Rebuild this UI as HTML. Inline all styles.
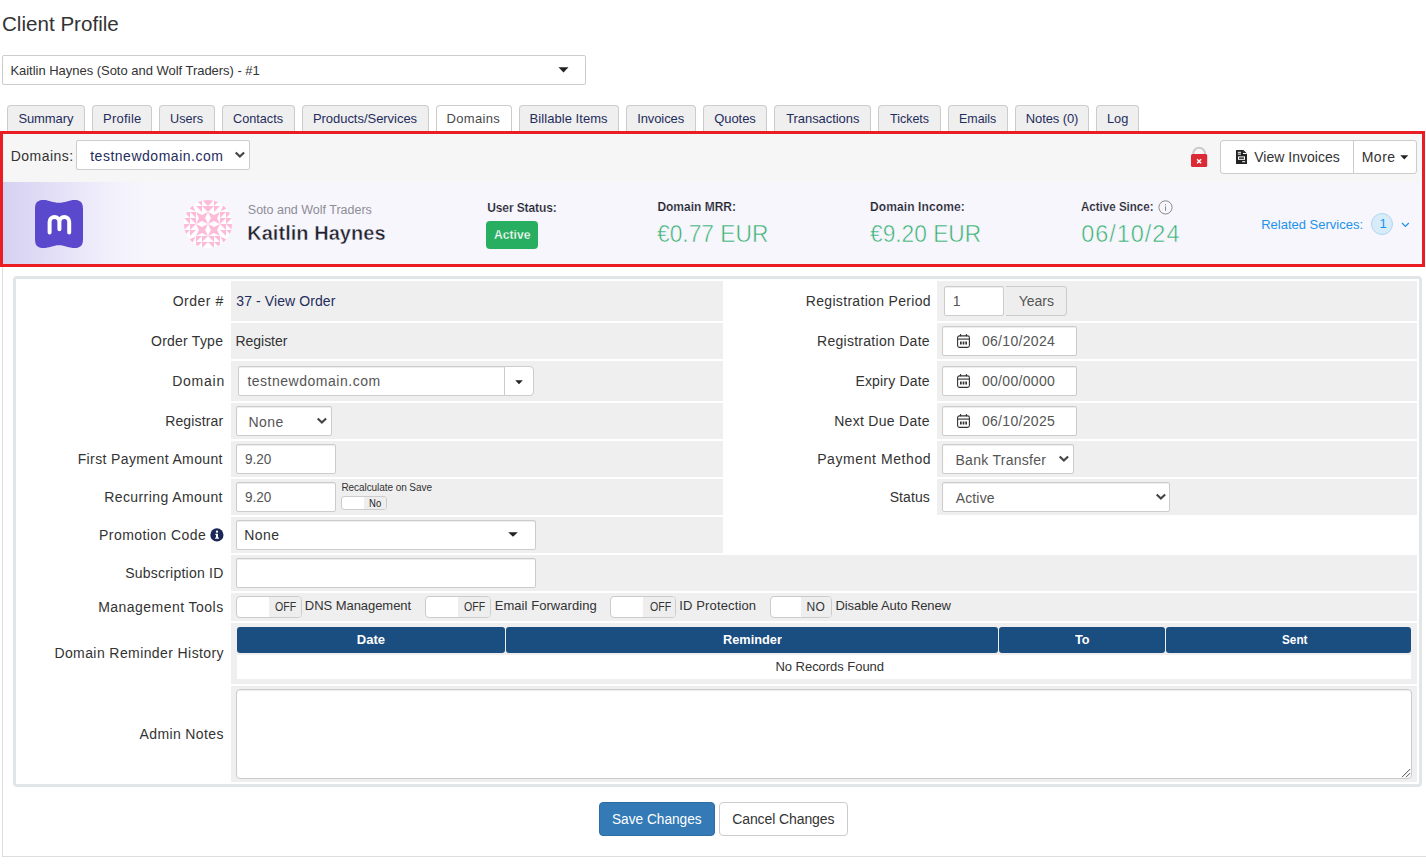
<!DOCTYPE html>
<html><head><meta charset="utf-8"><title>Client Profile</title>
<style>
html,body{margin:0;padding:0;background:#fff;}
body{width:1426px;height:864px;position:relative;overflow:hidden;font-family:"Liberation Sans", sans-serif;}
#pg div{position:absolute;box-sizing:border-box;}
#pg svg{position:absolute;overflow:visible;}
.t{position:absolute;white-space:pre;line-height:0;font-family:"Liberation Sans", sans-serif;}
</style></head><body><div id="pg">
<div style="left:2px;top:134px;width:1px;height:723px;background:#ddd"></div>
<div style="left:2px;top:856px;width:1424px;height:1px;background:#ddd"></div>
<div style="left:2px;top:55px;width:584px;height:30px;border:1px solid #ccc;border-radius:2px;background:#fff"></div>
<svg style="left:557.5px;top:67px" width="11" height="6" viewBox="0 0 11 6"><path d="M0.5 0.3H10.5L5.5 5.6Z" fill="#222"/></svg>
<div style="left:7px;top:105px;width:78px;height:27px;border:1px solid #ccc;border-bottom:0;border-radius:4px 4px 0 0;background:#efefef"></div>
<div style="left:92px;top:105px;width:60px;height:27px;border:1px solid #ccc;border-bottom:0;border-radius:4px 4px 0 0;background:#efefef"></div>
<div style="left:159px;top:105px;width:56px;height:27px;border:1px solid #ccc;border-bottom:0;border-radius:4px 4px 0 0;background:#efefef"></div>
<div style="left:222px;top:105px;width:73px;height:27px;border:1px solid #ccc;border-bottom:0;border-radius:4px 4px 0 0;background:#efefef"></div>
<div style="left:302px;top:105px;width:127px;height:27px;border:1px solid #ccc;border-bottom:0;border-radius:4px 4px 0 0;background:#efefef"></div>
<div style="left:436px;top:105px;width:76px;height:27px;border:1px solid #ccc;border-bottom:0;border-radius:4px 4px 0 0;background:#fff"></div>
<div style="left:519px;top:105px;width:100px;height:27px;border:1px solid #ccc;border-bottom:0;border-radius:4px 4px 0 0;background:#efefef"></div>
<div style="left:626px;top:105px;width:70px;height:27px;border:1px solid #ccc;border-bottom:0;border-radius:4px 4px 0 0;background:#efefef"></div>
<div style="left:703px;top:105px;width:64px;height:27px;border:1px solid #ccc;border-bottom:0;border-radius:4px 4px 0 0;background:#efefef"></div>
<div style="left:774px;top:105px;width:97px;height:27px;border:1px solid #ccc;border-bottom:0;border-radius:4px 4px 0 0;background:#efefef"></div>
<div style="left:878px;top:105px;width:63px;height:27px;border:1px solid #ccc;border-bottom:0;border-radius:4px 4px 0 0;background:#efefef"></div>
<div style="left:948px;top:105px;width:60px;height:27px;border:1px solid #ccc;border-bottom:0;border-radius:4px 4px 0 0;background:#efefef"></div>
<div style="left:1015px;top:105px;width:74px;height:27px;border:1px solid #ccc;border-bottom:0;border-radius:4px 4px 0 0;background:#efefef"></div>
<div style="left:1096px;top:105px;width:43px;height:27px;border:1px solid #ccc;border-bottom:0;border-radius:4px 4px 0 0;background:#efefef"></div>
<div style="left:0px;top:131px;width:1425px;height:136px;border:3px solid #ea1c24;background:#f6f6f6"></div>
<div style="left:3px;top:182px;width:1419px;height:82px;background:linear-gradient(90deg,#d6d1f1 0px,#e0dcf5 40px,#ebe8f9 80px,#f3f1fb 112px,#f7f6fd 145px,#f7f6fd 100%)"></div>
<div style="left:76px;top:140px;width:174px;height:30px;border:1px solid #ccc;border-radius:2px;background:#fff"></div>
<svg style="left:234.1px;top:151.2px" width="12" height="8" viewBox="0 0 12 8"><path d="M1.7 1.5L5.9 5.6L10.1 1.5" fill="none" stroke="#444" stroke-width="2.1"/></svg>
<svg style="left:1190px;top:146px" width="18" height="22" viewBox="0 0 18 22">
<path d="M3.2 9V7.6a5.9 5.9 0 0 1 11.8 0V9" fill="none" stroke="#c9c9c9" stroke-width="2"/>
<rect x="1" y="8" width="16.2" height="13" rx="1.6" fill="#db2a35"/>
<path d="M7.1 13.3L11.1 17.3M11.1 13.3L7.1 17.3" stroke="#fff" stroke-width="1.5"/></svg>
<div style="left:1220px;top:140px;width:197px;height:34px;border:1px solid #ccc;border-radius:3px;background:#fff"></div>
<div style="left:1353px;top:141px;width:1px;height:32px;background:#ccc"></div>
<svg style="left:1236px;top:150px" width="11" height="14" viewBox="0 0 11 14">
<path d="M0.6 0H7L11 4V13.4a.6.6 0 0 1-.6.6H.6a.6.6 0 0 1-.6-.6V.6A.6.6 0 0 1 .6 0Z" fill="#222"/>
<path d="M7 0V4H11Z" fill="#fff"/><path d="M7.4 0L11 3.6H7.4Z" fill="#222" transform="translate(0.3,-0.3) scale(0.92)"/>
<rect x="1.8" y="1.8" width="3.2" height="1" fill="#fff"/><rect x="1.8" y="3.6" width="3.2" height="1" fill="#fff"/>
<rect x="2" y="6.4" width="7" height="3.4" fill="#fff"/><rect x="3" y="7.4" width="5" height="1.4" fill="#222"/>
<rect x="6.2" y="11.2" width="3" height="1" fill="#fff"/></svg>
<svg style="left:1400px;top:155px" width="9" height="5" viewBox="0 0 9 5"><path d="M0.3 0.3H8.3L4.3 4.6Z" fill="#222"/></svg>
<svg style="left:35px;top:200px" width="48" height="48" viewBox="0 0 48 48">
<path d="M0 9C0 2.5 2.5 0 8.5 0C14 0 18 2.8 24 2.8C30 2.8 34 0 39.5 0C45.5 0 48 2.5 48 9L48 39C48 45.5 45.5 48 39.5 48C34 48 30 45.2 24 45.2C18 45.2 14 48 8.5 48C2.5 48 0 45.5 0 39Z" fill="#5b49cd"/>
<path d="M14.6 32.6V22A4.9 4.9 0 0 1 24.4 22V29.2M24.4 22A4.9 4.9 0 0 1 34.2 22V32.6" fill="none" stroke="#fff" stroke-width="4" stroke-linecap="round"/></svg>
<svg style="left:184px;top:200px" width="48" height="48" viewBox="0 0 48 48"><defs><clipPath id="av"><circle cx="24" cy="24" r="24"/></clipPath></defs><g clip-path="url(#av)"><rect width="48" height="48" fill="#fff"/><g fill="#fbbbd9"><path d="M12 0H18V6Z"/><path d="M12 6H18V12Z"/><path d="M18 0H24V6Z"/><path d="M18 6H24V12Z"/><path d="M0 12H6V18Z"/><path d="M0 18H6V24Z"/><path d="M6 12H12V18Z"/><path d="M6 18H12V24Z"/><path d="M36 24H42V30Z"/><path d="M36 30H42V36Z"/><path d="M42 24H48V30Z"/><path d="M42 30H48V36Z"/><path d="M24 36H30V42Z"/><path d="M24 42H30V48Z"/><path d="M30 36H36V42Z"/><path d="M30 42H36V48Z"/><path d="M24 0H30L24 6Z"/><path d="M24 6H30L24 12Z"/><path d="M30 0H36L30 6Z"/><path d="M30 6H36L30 12Z"/><path d="M36 12H42L36 18Z"/><path d="M36 18H42L36 24Z"/><path d="M42 12H48L42 18Z"/><path d="M42 18H48L42 24Z"/><path d="M0 24H6L0 30Z"/><path d="M0 30H6L0 36Z"/><path d="M6 24H12L6 30Z"/><path d="M6 30H12L6 36Z"/><path d="M12 36H18L12 42Z"/><path d="M12 42H18L12 48Z"/><path d="M18 36H24L18 42Z"/><path d="M18 42H24L18 48Z"/><path d="M8.6 5.2L11.4 11.2L5.2 8.6Z"/><path d="M39.4 5.2L36.6 11.2L42.8 8.6Z"/><path d="M8.6 42.8L11.4 36.8L5.2 39.4Z"/><path d="M39.4 42.8L36.6 36.8L42.8 39.4Z"/><path d="M0 0L6 2.9L12 0L9.1 6L12 12L6 9.1L0 12L2.9 6Z" transform="translate(12,12)"/><path d="M0 0L6 2.9L12 0L9.1 6L12 12L6 9.1L0 12L2.9 6Z" transform="translate(24,12)"/><path d="M0 0L6 2.9L12 0L9.1 6L12 12L6 9.1L0 12L2.9 6Z" transform="translate(12,24)"/><path d="M0 0L6 2.9L12 0L9.1 6L12 12L6 9.1L0 12L2.9 6Z" transform="translate(24,24)"/></g></g></svg>
<div style="left:486px;top:221px;width:52px;height:28px;background:#27ae60;border-radius:4px"></div>
<svg style="left:1158px;top:200px" width="15" height="15" viewBox="0 0 15 15"><circle cx="7.5" cy="7.4" r="6.6" fill="none" stroke="#8a8a8a" stroke-width="1"/><rect x="7" y="6.4" width="1" height="4.4" fill="#8a8a8a"/><rect x="7" y="4.2" width="1" height="1.1" fill="#8a8a8a"/></svg>
<div style="left:1371px;top:213px;width:22px;height:22px;border-radius:50%;background:#d8ebf9;border:1px solid #afd6f3"></div>
<svg style="left:1401px;top:222px" width="9" height="6" viewBox="0 0 9 6"><path d="M1 1L4.4 4.4L7.8 1" fill="none" stroke="#1c93ea" stroke-width="1.3"/></svg>
<div style="left:13px;top:276px;width:1409px;height:511px;border:3px solid #e1e6e9;border-radius:4px;background:#fff"></div>
<div style="left:231px;top:281px;width:492px;height:40px;background:#efefef"></div>
<div style="left:937px;top:281px;width:480px;height:40px;background:#efefef"></div>
<div style="left:231px;top:323px;width:492px;height:36px;background:#efefef"></div>
<div style="left:937px;top:323px;width:480px;height:36px;background:#efefef"></div>
<div style="left:231px;top:361px;width:492px;height:40px;background:#efefef"></div>
<div style="left:937px;top:361px;width:480px;height:40px;background:#efefef"></div>
<div style="left:231px;top:403px;width:492px;height:36px;background:#efefef"></div>
<div style="left:937px;top:403px;width:480px;height:36px;background:#efefef"></div>
<div style="left:231px;top:441px;width:492px;height:36px;background:#efefef"></div>
<div style="left:937px;top:441px;width:480px;height:36px;background:#efefef"></div>
<div style="left:231px;top:479px;width:492px;height:36px;background:#efefef"></div>
<div style="left:937px;top:479px;width:480px;height:36px;background:#efefef"></div>
<div style="left:231px;top:517px;width:492px;height:36px;background:#efefef"></div>
<div style="left:231px;top:555px;width:1186px;height:36px;background:#efefef"></div>
<div style="left:231px;top:593px;width:1186px;height:28px;background:#efefef"></div>
<div style="left:231px;top:623px;width:1186px;height:61px;background:#efefef"></div>
<div style="left:231px;top:686px;width:1186px;height:96px;background:#efefef"></div>
<svg style="left:210px;top:528px" width="14" height="14" viewBox="0 0 14 14"><circle cx="6.9" cy="6.9" r="6.6" fill="#1a2758"/><rect x="6" y="5.8" width="2" height="4.4" fill="#fff"/><rect x="5.2" y="5.8" width="1.4" height="1" fill="#fff"/><rect x="5" y="9.6" width="4" height="1.1" fill="#fff"/><circle cx="7" cy="3.7" r="1.15" fill="#fff"/></svg>
<div style="left:238px;top:366px;width:267px;height:30px;border:1px solid #ccc;border-radius:2px 0 0 2px;background:#fff;box-shadow:inset 0 1px 1px rgba(0,0,0,.075)"></div>
<div style="left:504px;top:366px;width:30px;height:30px;border:1px solid #ccc;border-radius:0 4px 4px 0;background:#fff"></div>
<svg style="left:515px;top:379.8px" width="8" height="4.5" viewBox="0 0 8 4.5"><path d="M0.2 0.2H7.8L4.0 4.3Z" fill="#222"/></svg>
<div style="left:236px;top:406px;width:96px;height:30px;border:1px solid #ccc;border-radius:2px;background:#fff;box-shadow:inset 0 1px 1px rgba(0,0,0,.075)"></div>
<svg style="left:316.4px;top:417.4px" width="12" height="8" viewBox="0 0 12 8"><path d="M1.7 1.5L5.9 5.6L10.1 1.5" fill="none" stroke="#444" stroke-width="2.1"/></svg>
<div style="left:236px;top:444px;width:100px;height:30px;border:1px solid #ccc;border-radius:2px;background:#fff;box-shadow:inset 0 1px 1px rgba(0,0,0,.075)"></div>
<div style="left:236px;top:482px;width:100px;height:30px;border:1px solid #ccc;border-radius:2px;background:#fff;box-shadow:inset 0 1px 1px rgba(0,0,0,.075)"></div>
<div style="left:341px;top:496px;width:46px;height:14px;border:1px solid #ccc;border-radius:3px;background:#fff"></div>
<div style="left:364px;top:497px;width:22px;height:12px;background:#eee;border-radius:0 2px 2px 0"></div>
<div style="left:236px;top:520px;width:300px;height:30px;border:1px solid #ccc;border-radius:2px;background:#fff;box-shadow:inset 0 1px 1px rgba(0,0,0,.075)"></div>
<svg style="left:508px;top:532px" width="10" height="5" viewBox="0 0 10 5"><path d="M0.2 0.2H9.8L5.0 4.8Z" fill="#222"/></svg>
<div style="left:236px;top:558px;width:300px;height:30px;border:1px solid #ccc;border-radius:2px;background:#fff;box-shadow:inset 0 1px 1px rgba(0,0,0,.075)"></div>
<div style="left:944px;top:286px;width:60px;height:30px;border:1px solid #ccc;border-radius:2px;background:#fff;box-shadow:inset 0 1px 1px rgba(0,0,0,.075)"></div>
<div style="left:1006px;top:286px;width:61px;height:30px;border:1px solid #ccc;border-left:0;border-radius:0 4px 4px 0;background:#eee"></div>
<div style="left:942px;top:326px;width:135px;height:30px;border:1px solid #ccc;border-radius:2px;background:#fff;box-shadow:inset 0 1px 1px rgba(0,0,0,.075)"></div>
<svg style="left:957px;top:334px" width="13" height="14" viewBox="0 0 13 14"><rect x="0.6" y="1.9" width="11.8" height="11.5" rx="1.8" fill="none" stroke="#333" stroke-width="1.1"/><path d="M0.6 5.1H12.4" stroke="#333" stroke-width="1.1"/><path d="M3.6 0.1V2.2M9.4 0.1V2.2" stroke="#333" stroke-width="1.1"/><rect x="3" y="7.5" width="1.7" height="3" fill="#333"/><rect x="5.65" y="7.5" width="1.7" height="3" fill="#333"/><rect x="8.3" y="7.5" width="1.7" height="3" fill="#333"/></svg>
<div style="left:942px;top:366px;width:135px;height:30px;border:1px solid #ccc;border-radius:2px;background:#fff;box-shadow:inset 0 1px 1px rgba(0,0,0,.075)"></div>
<svg style="left:957px;top:374px" width="13" height="14" viewBox="0 0 13 14"><rect x="0.6" y="1.9" width="11.8" height="11.5" rx="1.8" fill="none" stroke="#333" stroke-width="1.1"/><path d="M0.6 5.1H12.4" stroke="#333" stroke-width="1.1"/><path d="M3.6 0.1V2.2M9.4 0.1V2.2" stroke="#333" stroke-width="1.1"/><rect x="3" y="7.5" width="1.7" height="3" fill="#333"/><rect x="5.65" y="7.5" width="1.7" height="3" fill="#333"/><rect x="8.3" y="7.5" width="1.7" height="3" fill="#333"/></svg>
<div style="left:942px;top:406px;width:135px;height:30px;border:1px solid #ccc;border-radius:2px;background:#fff;box-shadow:inset 0 1px 1px rgba(0,0,0,.075)"></div>
<svg style="left:957px;top:414px" width="13" height="14" viewBox="0 0 13 14"><rect x="0.6" y="1.9" width="11.8" height="11.5" rx="1.8" fill="none" stroke="#333" stroke-width="1.1"/><path d="M0.6 5.1H12.4" stroke="#333" stroke-width="1.1"/><path d="M3.6 0.1V2.2M9.4 0.1V2.2" stroke="#333" stroke-width="1.1"/><rect x="3" y="7.5" width="1.7" height="3" fill="#333"/><rect x="5.65" y="7.5" width="1.7" height="3" fill="#333"/><rect x="8.3" y="7.5" width="1.7" height="3" fill="#333"/></svg>
<div style="left:942px;top:444px;width:132px;height:30px;border:1px solid #ccc;border-radius:2px;background:#fff;box-shadow:inset 0 1px 1px rgba(0,0,0,.075)"></div>
<svg style="left:1058.4px;top:455.4px" width="12" height="8" viewBox="0 0 12 8"><path d="M1.7 1.5L5.9 5.6L10.1 1.5" fill="none" stroke="#444" stroke-width="2.1"/></svg>
<div style="left:942px;top:482px;width:228px;height:30px;border:1px solid #ccc;border-radius:2px;background:#fff;box-shadow:inset 0 1px 1px rgba(0,0,0,.075)"></div>
<svg style="left:1154.6px;top:493.4px" width="12" height="8" viewBox="0 0 12 8"><path d="M1.7 1.5L5.9 5.6L10.1 1.5" fill="none" stroke="#444" stroke-width="2.1"/></svg>
<div style="left:236px;top:596px;width:66px;height:22px;border:1px solid #ccc;border-radius:4px;background:#fff"></div>
<div style="left:269px;top:597px;width:32px;height:20px;background:#eee;border-radius:0 3px 3px 0"></div>
<div style="left:425px;top:596px;width:66px;height:22px;border:1px solid #ccc;border-radius:4px;background:#fff"></div>
<div style="left:458px;top:597px;width:32px;height:20px;background:#eee;border-radius:0 3px 3px 0"></div>
<div style="left:610px;top:596px;width:66px;height:22px;border:1px solid #ccc;border-radius:4px;background:#fff"></div>
<div style="left:643px;top:597px;width:32px;height:20px;background:#eee;border-radius:0 3px 3px 0"></div>
<div style="left:770px;top:596px;width:62px;height:22px;border:1px solid #ccc;border-radius:4px;background:#fff"></div>
<div style="left:801px;top:597px;width:30px;height:20px;background:#eee;border-radius:0 3px 3px 0"></div>
<div style="left:237px;top:627px;width:268px;height:26px;background:#1a4d80;border-radius:3px"></div>
<div style="left:506px;top:627px;width:492px;height:26px;background:#1a4d80;border-radius:3px"></div>
<div style="left:999px;top:627px;width:166px;height:26px;background:#1a4d80;border-radius:3px"></div>
<div style="left:1166px;top:627px;width:245px;height:26px;background:#1a4d80;border-radius:3px"></div>
<div style="left:237px;top:655px;width:1174px;height:24px;background:#fff"></div>
<div style="left:236px;top:689px;width:1176px;height:90px;border:1px solid #ccc;border-radius:4px;background:#fff;box-shadow:inset 0 1px 1px rgba(0,0,0,.075)"></div>
<svg style="left:1401px;top:768px" width="10" height="10" viewBox="0 0 10 10"><path d="M1 9.2L9.2 1M5 9.2L9.2 5" stroke="#555" stroke-width="1"/></svg>
<div style="left:599px;top:802px;width:116px;height:34px;background:#337ab7;border:1px solid #2e6da4;border-radius:4px"></div>
<div style="left:719px;top:802px;width:129px;height:34px;background:#fff;border:1px solid #ccc;border-radius:4px"></div>
<span class="t" style="left:1.72px;top:23.50px;font-size:21px;font-weight:400;color:#333;letter-spacing:0.000px;transform-origin:0 50%;transform:scaleX(0.9807)">Client Profile</span>
<span class="t" style="left:10.40px;top:70.50px;font-size:13px;font-weight:400;color:#333;letter-spacing:-0.026px">Kaitlin Haynes (Soto and Wolf Traders) - #1</span>
<span class="t" style="left:18.40px;top:118.50px;font-size:13px;font-weight:400;color:#1f2d5c;letter-spacing:-0.103px">Summary</span>
<span class="t" style="left:103.00px;top:118.50px;font-size:13px;font-weight:400;color:#1f2d5c;letter-spacing:0.247px">Profile</span>
<span class="t" style="left:170.23px;top:118.50px;font-size:13px;font-weight:400;color:#1f2d5c;letter-spacing:0.000px;transform-origin:0 50%;transform:scaleX(0.9747)">Users</span>
<span class="t" style="left:233.10px;top:118.50px;font-size:13px;font-weight:400;color:#1f2d5c;letter-spacing:0.000px;transform-origin:0 50%;transform:scaleX(0.9749)">Contacts</span>
<span class="t" style="left:312.90px;top:118.50px;font-size:13px;font-weight:400;color:#1f2d5c;letter-spacing:-0.035px">Products/Services</span>
<span class="t" style="left:446.50px;top:118.50px;font-size:13px;font-weight:400;color:#484848;letter-spacing:0.317px">Domains</span>
<span class="t" style="left:529.60px;top:118.50px;font-size:13px;font-weight:400;color:#1f2d5c;letter-spacing:0.053px">Billable Items</span>
<span class="t" style="left:637.20px;top:118.50px;font-size:13px;font-weight:400;color:#1f2d5c;letter-spacing:-0.099px">Invoices</span>
<span class="t" style="left:714.30px;top:118.50px;font-size:13px;font-weight:400;color:#1f2d5c;letter-spacing:-0.083px">Quotes</span>
<span class="t" style="left:786.20px;top:118.50px;font-size:13px;font-weight:400;color:#1f2d5c;letter-spacing:-0.067px">Transactions</span>
<span class="t" style="left:889.80px;top:118.50px;font-size:13px;font-weight:400;color:#1f2d5c;letter-spacing:0.000px;transform-origin:0 50%;transform:scaleX(0.9590)">Tickets</span>
<span class="t" style="left:958.74px;top:118.50px;font-size:13px;font-weight:400;color:#1f2d5c;letter-spacing:0.000px;transform-origin:0 50%;transform:scaleX(0.9557)">Emails</span>
<span class="t" style="left:1025.80px;top:118.50px;font-size:13px;font-weight:400;color:#1f2d5c;letter-spacing:-0.104px">Notes (0)</span>
<span class="t" style="left:1107.22px;top:118.50px;font-size:13px;font-weight:400;color:#1f2d5c;letter-spacing:0.000px;transform-origin:0 50%;transform:scaleX(0.9824)">Log</span>
<span class="t" style="left:10.70px;top:156.00px;font-size:14px;font-weight:400;color:#333;letter-spacing:0.480px">Domains:</span>
<span class="t" style="left:90.20px;top:156.00px;font-size:14px;font-weight:400;color:#1f2d5c;letter-spacing:0.516px">testnewdomain.com</span>
<span class="t" style="left:1254.20px;top:157.00px;font-size:14px;font-weight:400;color:#333;letter-spacing:0.022px">View Invoices</span>
<span class="t" style="left:1361.70px;top:157.00px;font-size:14px;font-weight:400;color:#333;letter-spacing:0.497px">More</span>
<span class="t" style="left:247.80px;top:210.00px;font-size:12.5px;font-weight:400;color:#8d8d97;letter-spacing:-0.006px">Soto and Wolf Traders</span>
<span class="t" style="left:247.20px;top:232.70px;font-size:20px;font-weight:700;color:#20202c;letter-spacing:0.039px;-webkit-text-stroke:0.45px #f7f6fd">Kaitlin Haynes</span>
<span class="t" style="left:487.20px;top:208.20px;font-size:12px;font-weight:700;color:#22222e;letter-spacing:-0.099px;-webkit-text-stroke:0.18px #f7f6fd">User Status:</span>
<span class="t" style="left:494.00px;top:235.20px;font-size:13px;font-weight:700;color:#fff;letter-spacing:0.000px;transform-origin:0 50%;transform:scaleX(0.9333);-webkit-text-stroke:0.3px #27ae60">Active</span>
<span class="t" style="left:657.40px;top:206.80px;font-size:12px;font-weight:700;color:#22222e;letter-spacing:-0.007px;-webkit-text-stroke:0.18px #f7f6fd">Domain MRR:</span>
<span class="t" style="left:657.40px;top:233.80px;font-size:23.5px;font-weight:400;color:#35b06f;letter-spacing:0.000px;transform-origin:0 50%;transform:scaleX(0.9686);-webkit-text-stroke:0.55px #f7f6fd">€0.77 EUR</span>
<span class="t" style="left:870.00px;top:206.80px;font-size:12px;font-weight:700;color:#22222e;letter-spacing:0.112px;-webkit-text-stroke:0.18px #f7f6fd">Domain Income:</span>
<span class="t" style="left:870.00px;top:233.80px;font-size:23.5px;font-weight:400;color:#35b06f;letter-spacing:0.000px;transform-origin:0 50%;transform:scaleX(0.9668);-webkit-text-stroke:0.55px #f7f6fd">€9.20 EUR</span>
<span class="t" style="left:1081.20px;top:207.30px;font-size:12px;font-weight:700;color:#22222e;letter-spacing:0.000px;transform-origin:0 50%;transform:scaleX(0.9628);-webkit-text-stroke:0.18px #f7f6fd">Active Since:</span>
<span class="t" style="left:1081.20px;top:233.60px;font-size:23.5px;font-weight:400;color:#35b06f;letter-spacing:0.971px;-webkit-text-stroke:0.55px #f7f6fd">06/10/24</span>
<span class="t" style="left:1261.20px;top:224.50px;font-size:13px;font-weight:400;color:#1c93ea;letter-spacing:0.002px">Related Services:</span>
<span class="t" style="left:1379.40px;top:224.10px;font-size:13px;font-weight:400;color:#1c93ea;letter-spacing:0.450px">1</span>
<span class="t" style="left:172.70px;top:301.10px;font-size:14px;font-weight:400;color:#333;letter-spacing:0.504px">Order #</span>
<span class="t" style="left:151.00px;top:341.10px;font-size:14px;font-weight:400;color:#333;letter-spacing:0.240px">Order Type</span>
<span class="t" style="left:172.20px;top:381.10px;font-size:14px;font-weight:400;color:#333;letter-spacing:0.749px">Domain</span>
<span class="t" style="left:165.20px;top:421.10px;font-size:14px;font-weight:400;color:#333;letter-spacing:0.134px">Registrar</span>
<span class="t" style="left:77.70px;top:459.10px;font-size:14px;font-weight:400;color:#333;letter-spacing:0.374px">First Payment Amount</span>
<span class="t" style="left:104.20px;top:497.10px;font-size:14px;font-weight:400;color:#333;letter-spacing:0.418px">Recurring Amount</span>
<span class="t" style="left:99.10px;top:535.10px;font-size:14px;font-weight:400;color:#333;letter-spacing:0.417px">Promotion Code</span>
<span class="t" style="left:125.20px;top:573.10px;font-size:14px;font-weight:400;color:#333;letter-spacing:0.227px">Subscription ID</span>
<span class="t" style="left:98.20px;top:607.10px;font-size:14px;font-weight:400;color:#333;letter-spacing:0.461px">Management Tools</span>
<span class="t" style="left:54.40px;top:653.10px;font-size:14px;font-weight:400;color:#333;letter-spacing:0.406px">Domain Reminder History</span>
<span class="t" style="left:139.60px;top:734.10px;font-size:14px;font-weight:400;color:#333;letter-spacing:0.366px">Admin Notes</span>
<span class="t" style="left:805.80px;top:301.10px;font-size:14px;font-weight:400;color:#333;letter-spacing:0.318px">Registration Period</span>
<span class="t" style="left:817.00px;top:341.10px;font-size:14px;font-weight:400;color:#333;letter-spacing:0.276px">Registration Date</span>
<span class="t" style="left:855.40px;top:381.10px;font-size:14px;font-weight:400;color:#333;letter-spacing:0.183px">Expiry Date</span>
<span class="t" style="left:834.20px;top:421.10px;font-size:14px;font-weight:400;color:#333;letter-spacing:0.297px">Next Due Date</span>
<span class="t" style="left:817.20px;top:459.10px;font-size:14px;font-weight:400;color:#333;letter-spacing:0.581px">Payment Method</span>
<span class="t" style="left:889.70px;top:497.10px;font-size:14px;font-weight:400;color:#333;letter-spacing:0.082px">Status</span>
<span class="t" style="left:236.30px;top:301.20px;font-size:14px;font-weight:400;color:#1f2d5c;letter-spacing:0.091px">37 - View Order</span>
<span class="t" style="left:235.50px;top:341.20px;font-size:14px;font-weight:400;color:#333;letter-spacing:-0.038px">Register</span>
<span class="t" style="left:247.40px;top:381.10px;font-size:14px;font-weight:400;color:#555;letter-spacing:0.516px">testnewdomain.com</span>
<span class="t" style="left:248.60px;top:422.00px;font-size:14px;font-weight:400;color:#555;letter-spacing:0.372px">None</span>
<span class="t" style="left:245.20px;top:459.20px;font-size:14px;font-weight:400;color:#555;letter-spacing:0.000px;transform-origin:0 50%;transform:scaleX(0.9686)">9.20</span>
<span class="t" style="left:245.20px;top:497.20px;font-size:14px;font-weight:400;color:#555;letter-spacing:0.000px;transform-origin:0 50%;transform:scaleX(0.9686)">9.20</span>
<span class="t" style="left:341.40px;top:488.20px;font-size:10px;font-weight:400;color:#333;letter-spacing:-0.065px">Recalculate on Save</span>
<span class="t" style="left:369.20px;top:504.20px;font-size:10px;font-weight:400;color:#222;letter-spacing:0.000px;transform-origin:0 50%;transform:scaleX(0.9530)">No</span>
<span class="t" style="left:244.20px;top:535.20px;font-size:14px;font-weight:400;color:#333;letter-spacing:0.472px">None</span>
<span class="t" style="left:952.70px;top:301.20px;font-size:14px;font-weight:400;color:#555;letter-spacing:0.450px">1</span>
<span class="t" style="left:1018.80px;top:301.20px;font-size:14px;font-weight:400;color:#555;letter-spacing:-0.022px">Years</span>
<span class="t" style="left:981.90px;top:341.10px;font-size:14px;font-weight:400;color:#555;letter-spacing:0.324px">06/10/2024</span>
<span class="t" style="left:981.90px;top:381.10px;font-size:14px;font-weight:400;color:#555;letter-spacing:0.324px">00/00/0000</span>
<span class="t" style="left:981.90px;top:421.10px;font-size:14px;font-weight:400;color:#555;letter-spacing:0.324px">06/10/2025</span>
<span class="t" style="left:955.50px;top:460.00px;font-size:14px;font-weight:400;color:#555;letter-spacing:0.280px">Bank Transfer</span>
<span class="t" style="left:955.70px;top:498.00px;font-size:14px;font-weight:400;color:#555;letter-spacing:0.152px">Active</span>
<span class="t" style="left:275.20px;top:606.70px;font-size:12px;font-weight:400;color:#333;letter-spacing:0.000px;transform-origin:0 50%;transform:scaleX(0.8832)">OFF</span>
<span class="t" style="left:304.80px;top:605.80px;font-size:13px;font-weight:400;color:#333;letter-spacing:-0.048px">DNS Management</span>
<span class="t" style="left:464.40px;top:606.70px;font-size:12px;font-weight:400;color:#333;letter-spacing:0.000px;transform-origin:0 50%;transform:scaleX(0.8832)">OFF</span>
<span class="t" style="left:494.70px;top:605.80px;font-size:13px;font-weight:400;color:#333;letter-spacing:0.059px">Email Forwarding</span>
<span class="t" style="left:649.60px;top:606.70px;font-size:12px;font-weight:400;color:#333;letter-spacing:0.000px;transform-origin:0 50%;transform:scaleX(0.8832)">OFF</span>
<span class="t" style="left:679.20px;top:605.80px;font-size:13px;font-weight:400;color:#333;letter-spacing:0.141px">ID Protection</span>
<span class="t" style="left:806.60px;top:606.70px;font-size:12px;font-weight:400;color:#333;letter-spacing:0.134px">NO</span>
<span class="t" style="left:835.50px;top:605.80px;font-size:13px;font-weight:400;color:#333;letter-spacing:-0.094px">Disable Auto Renew</span>
<span class="t" style="left:356.70px;top:639.50px;font-size:13px;font-weight:700;color:#fff;letter-spacing:0.051px">Date</span>
<span class="t" style="left:722.70px;top:639.50px;font-size:13px;font-weight:700;color:#fff;letter-spacing:0.000px;transform-origin:0 50%;transform:scaleX(0.9816)">Reminder</span>
<span class="t" style="left:1074.70px;top:639.50px;font-size:13px;font-weight:700;color:#fff;letter-spacing:0.000px;transform-origin:0 50%;transform:scaleX(0.9749)">To</span>
<span class="t" style="left:1281.70px;top:639.50px;font-size:13px;font-weight:700;color:#fff;letter-spacing:0.000px;transform-origin:0 50%;transform:scaleX(0.9049)">Sent</span>
<span class="t" style="left:775.50px;top:666.80px;font-size:13px;font-weight:400;color:#333;letter-spacing:-0.039px">No Records Found</span>
<span class="t" style="left:611.80px;top:819.00px;font-size:14px;font-weight:400;color:#fff;letter-spacing:0.000px;transform-origin:0 50%;transform:scaleX(0.9756)">Save Changes</span>
<span class="t" style="left:732.20px;top:819.00px;font-size:14px;font-weight:400;color:#333;letter-spacing:-0.093px">Cancel Changes</span>
</div></body></html>
